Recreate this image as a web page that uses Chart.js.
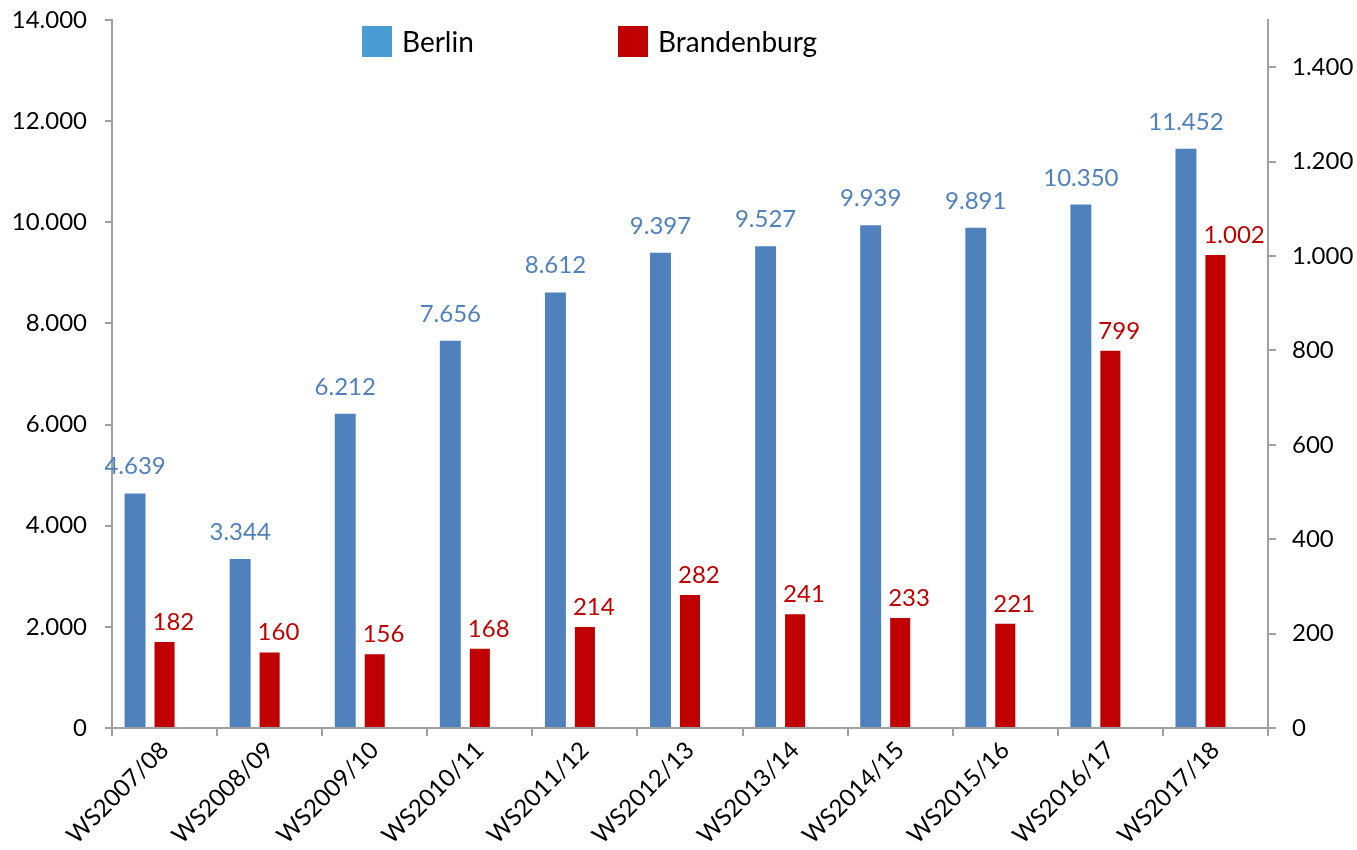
<!DOCTYPE html>
<html>
<head>
<meta charset="utf-8">
<script src="https://cdn.jsdelivr.net/npm/chart.js@4.4.1/dist/chart.umd.min.js"></script>
<style>
html,body{margin:0;padding:0;background:#fff;}
#wrap{width:1357px;height:850px;position:relative;}
</style>
</head>
<body>
<div id="wrap"><canvas id="c" width="1357" height="850"></canvas></div>
<script>
const categories = ['WS2007/08','WS2008/09','WS2009/10','WS2010/11','WS2011/12','WS2012/13','WS2013/14','WS2014/15','WS2015/16','WS2016/17','WS2017/18'];
const berlin = [4639, 3344, 6212, 7656, 8612, 9397, 9527, 9939, 9891, 10350, 11452];
const brandenburg = [182, 160, 156, 168, 214, 282, 241, 233, 221, 799, 1002];
const seriesNames = ['Berlin', 'Brandenburg'];
const leftAxis = {min: 0, max: 14000, step: 2000};
const rightAxis = {min: 0, max: 1500, step: 200, lastTick: 1400};

const FONT = 'Lato, "Liberation Sans", sans-serif';
const AXIS = '#a0a0a0';
const BERLIN_BAR = '#4f81bd';
const BERLIN_LEGEND = '#4b9bd5';
const BRB = '#c00000';
const FS = 24;

function fmt(v){ return String(v).replace(/\B(?=(\d{3})+(?!\d))/g, '.'); }

const labelPlugin = {
  id: 'valueLabels',
  afterDatasetsDraw(chart){
    const ctx = chart.ctx;
    ctx.save();
    ctx.font = FS + 'px ' + FONT;
    ctx.textBaseline = 'alphabetic';
    const m0 = chart.getDatasetMeta(0);
    ctx.fillStyle = BERLIN_BAR;
    ctx.textAlign = 'center';
    m0.data.forEach((el, i) => {
      ctx.fillText(fmt(berlin[i]), el.x, el.y - 19);
    });
    const m1 = chart.getDatasetMeta(1);
    ctx.fillStyle = BRB;
    ctx.textAlign = 'left';
    m1.data.forEach((el, i) => {
      ctx.fillText(fmt(brandenburg[i]), el.x - el.width/2 - 2, el.y - 12);
    });
    ctx.restore();
  }
};

const legendPlugin = {
  id: 'customLegend',
  afterDraw(chart){
    const ctx = chart.ctx;
    ctx.save();
    ctx.font = '28px ' + FONT;
    ctx.textBaseline = 'middle';
    ctx.textAlign = 'left';
    const items = [
      {name: seriesNames[0], color: BERLIN_LEGEND, x: 362},
      {name: seriesNames[1], color: BRB, x: 618}
    ];
    items.forEach(it => {
      ctx.fillStyle = it.color;
      ctx.fillRect(it.x, 26, 30, 31);
      ctx.fillStyle = '#000';
      ctx.fillText(it.name, it.x + 40, 43);
    });
    ctx.restore();
  }
};

function fitY(width){
  return function(s){ s.width = width; s.paddingTop = 0; s.paddingBottom = 0; };
}

new Chart(document.getElementById('c'), {
  type: 'bar',
  data: {
    labels: categories,
    datasets: [
      {label: seriesNames[0], data: berlin, backgroundColor: BERLIN_BAR, yAxisID: 'y', categoryPercentage: 0.842, barPercentage: 0.71},
      {label: seriesNames[1], data: brandenburg, backgroundColor: BRB, yAxisID: 'y1', categoryPercentage: 0.842, barPercentage: 0.68},
      {label: '', data: categories.map(() => null), backgroundColor: 'rgba(0,0,0,0)', yAxisID: 'y', categoryPercentage: 0.842, barPercentage: 0.7}
    ]
  },
  options: {
    responsive: false,
    animation: false,
    devicePixelRatio: 1,
    layout: {padding: {top: 20, left: 0, right: 0, bottom: 0}},
    plugins: {legend: {display: false}, tooltip: {enabled: false}},
    scales: {
      x: {
        grid: {offset: true, drawOnChartArea: false, drawTicks: true, tickLength: 8, tickColor: AXIS, lineWidth: 2},
        border: {display: true, color: AXIS, width: 2},
        ticks: {minRotation: 45, maxRotation: 45, autoSkip: false, color: '#000', font: {family: FONT, size: FS}, padding: 0},
        afterFit(s){ s.height = 122; s.paddingLeft = 0; s.paddingRight = 0; }
      },
      y: {
        position: 'left',
        min: leftAxis.min, max: leftAxis.max,
        ticks: {stepSize: leftAxis.step, callback: v => fmt(v), color: '#000', font: {family: FONT, size: FS}, padding: 18},
        grid: {drawOnChartArea: false, drawTicks: true, tickLength: 7, tickColor: AXIS, lineWidth: 2},
        border: {display: true, color: AXIS, width: 2},
        afterFit: fitY(112)
      },
      y1: {
        position: 'right',
        min: rightAxis.min, max: rightAxis.max,
        ticks: {stepSize: rightAxis.step, callback: v => fmt(v), color: '#000', font: {family: FONT, size: FS}, padding: 16},
        afterBuildTicks(s){ s.ticks = s.ticks.filter(t => t.value <= rightAxis.lastTick); },
        grid: {drawOnChartArea: false, drawTicks: true, tickLength: 8, tickColor: AXIS, lineWidth: 2},
        border: {display: true, color: AXIS, width: 2},
        afterFit: fitY(89)
      }
    }
  },
  plugins: [labelPlugin, legendPlugin]
});
</script>
</body>
</html>
